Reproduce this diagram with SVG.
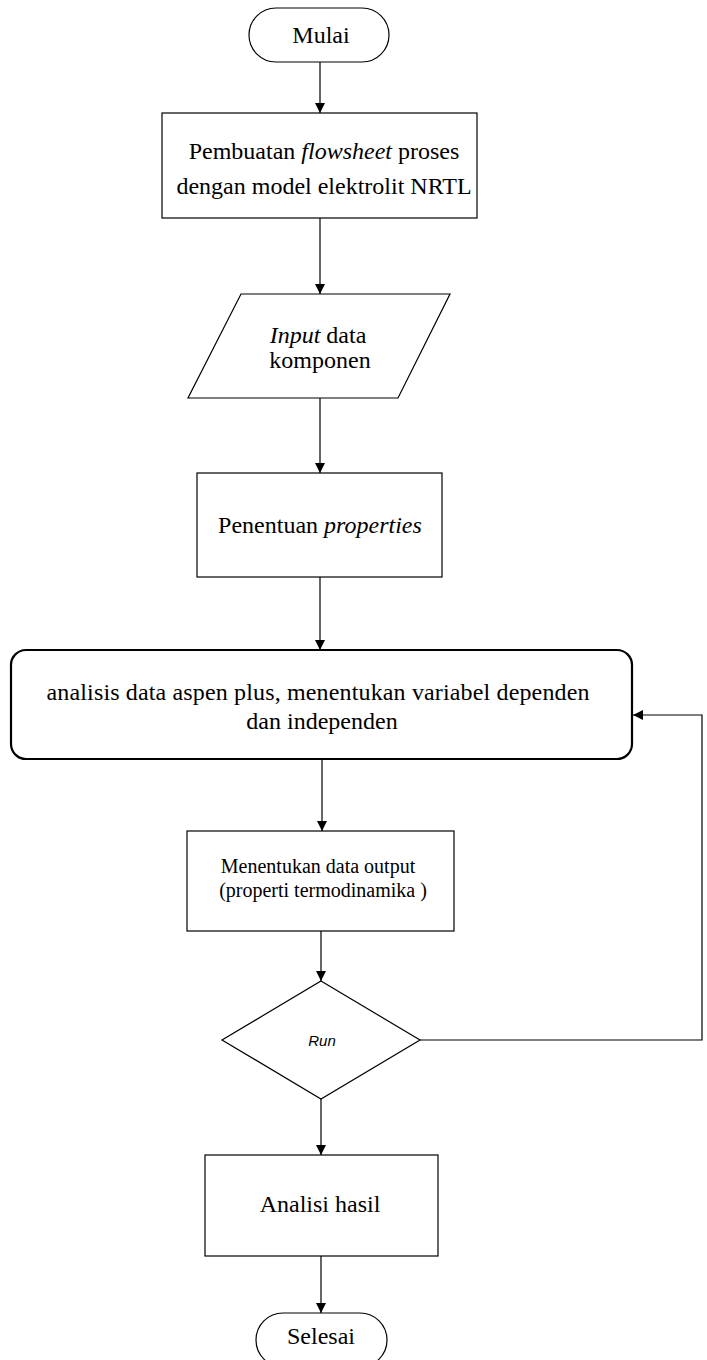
<svg xmlns="http://www.w3.org/2000/svg" width="707" height="1360" viewBox="0 0 707 1360">
<style>
.s{fill:#fff;stroke:#000;stroke-width:1.2}
.b{fill:#fff;stroke:#000;stroke-width:2.2}
.t{font-family:"Liberation Serif","Times New Roman",serif;font-size:24px;fill:#000;text-anchor:middle}
.t2{font-family:"Liberation Serif","Times New Roman",serif;font-size:20px;fill:#000;text-anchor:middle}
.i{font-style:italic}
.r{font-family:"Liberation Sans",Arial,sans-serif;font-size:15px;font-style:italic;fill:#000;text-anchor:middle}
.c{fill:none;stroke:#000;stroke-width:1.2}
</style>
<defs>
<marker id="ah" viewBox="0 0 10 10" refX="10" refY="5" markerWidth="10" markerHeight="10" markerUnits="userSpaceOnUse" orient="auto">
<path d="M0,0 L10,5 L0,10 z" fill="#000"/>
</marker>
</defs>
<rect width="707" height="1360" fill="#fff"/>
<g id="connectors">
<line class="c" x1="320" y1="62" x2="320" y2="113" marker-end="url(#ah)"/>
<line class="c" x1="320" y1="218" x2="320" y2="294" marker-end="url(#ah)"/>
<line class="c" x1="320" y1="398" x2="320" y2="473" marker-end="url(#ah)"/>
<line class="c" x1="320" y1="577" x2="320" y2="650" marker-end="url(#ah)"/>
<line class="c" x1="322" y1="760" x2="322" y2="831" marker-end="url(#ah)"/>
<line class="c" x1="321" y1="931" x2="321" y2="981" marker-end="url(#ah)"/>
<line class="c" x1="321" y1="1099" x2="321" y2="1155" marker-end="url(#ah)"/>
<line class="c" x1="321" y1="1256" x2="321" y2="1313" marker-end="url(#ah)"/>
<polyline class="c" points="420,1040 702,1040 702,715 633,715" marker-end="url(#ah)"/>
</g>
<g id="mulai">
<rect class="s" x="249" y="8" width="140" height="54" rx="27"/>
<text class="t" x="321" y="43">Mulai</text>
</g>
<g id="pembuatan">
<rect class="s" x="162" y="113" width="315" height="105"/>
<text class="t" x="324" y="159">Pembuatan <tspan class="i">flowsheet</tspan> proses</text>
<text class="t" x="324" y="194">dengan model elektrolit NRTL</text>
</g>
<g id="input">
<polygon class="s" points="241,294 450,294 398,398 188,398"/>
<text class="t" x="318" y="343"><tspan class="i">Input</tspan> data</text>
<text class="t" x="320" y="368">komponen</text>
</g>
<g id="penentuan">
<rect class="s" x="197" y="473" width="245" height="104"/>
<text class="t" x="320" y="533">Penentuan <tspan class="i">properties</tspan></text>
</g>
<g id="analisis">
<rect class="b" x="11" y="650" width="621" height="109" rx="15"/>
<text class="t" x="318" y="700" textLength="543" lengthAdjust="spacing">analisis data aspen plus, menentukan variabel dependen</text>
<text class="t" x="322" y="729">dan independen</text>
</g>
<g id="menentukan">
<rect class="s" x="187" y="831" width="267" height="100"/>
<text class="t2" x="318" y="873">Menentukan data output</text>
<text class="t2" x="323" y="897">(properti termodinamika )</text>
</g>
<g id="run">
<polygon class="s" points="321,981 420,1040 321,1099 222,1040"/>
<text class="r" x="322" y="1046">Run</text>
</g>
<g id="analisi-hasil">
<rect class="s" x="205" y="1155" width="233" height="101"/>
<text class="t" x="320" y="1212">Analisi hasil</text>
</g>
<g id="selesai">
<rect class="s" x="256" y="1313" width="131" height="54" rx="27"/>
<text class="t" x="321" y="1344">Selesai</text>
</g>
</svg>
